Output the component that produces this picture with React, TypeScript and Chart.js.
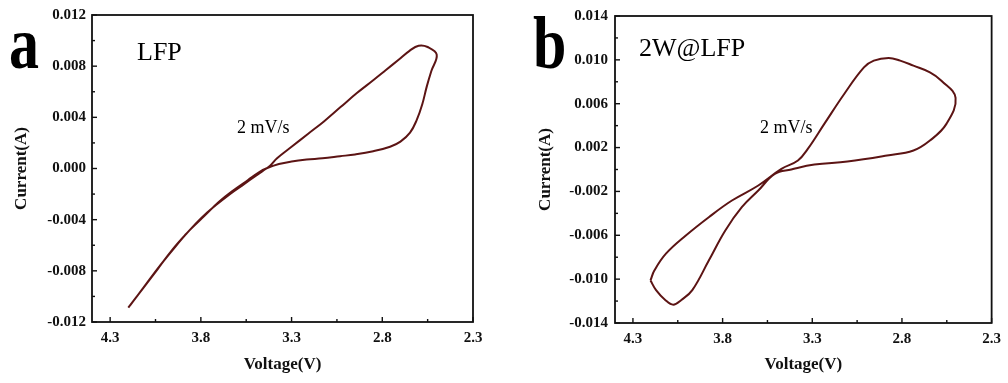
import React, { useEffect, useRef } from "react";
import { Chart, registerables } from "chart.js";

Chart.register(...registerables);

// ---- tick values ----
const xMajorTicks = [4.3, 3.8, 3.3, 2.8, 2.3];
const xMinorTicks = [4.05, 3.55, 3.05, 2.55];
const yMajorTicksA = [-0.012, -0.008, -0.004, 0, 0.004, 0.008, 0.012];
const yMinorTicksA = [-0.01, -0.006, -0.002, 0.002, 0.006, 0.01];
const yMajorTicksB = [-0.014, -0.01, -0.006, -0.002, 0.002, 0.006, 0.01, 0.014];
const yMinorTicksB = [-0.012, -0.008, -0.004, 0, 0.004, 0.008, 0.012];

// ---- panel a: LFP ----
const lfpVoltage = [
  4.2, 4.12, 4.04, 3.96, 3.88, 3.8, 3.72, 3.64, 3.56, 3.5, 3.46, 3.42,
  3.38, 3.3, 3.21, 3.12, 3.03, 2.94, 2.85, 2.78, 2.71, 2.65, 2.6, 2.55, 2.5,
  2.53, 2.555, 2.58, 2.61, 2.647, 2.7, 2.757, 2.85, 2.95, 3.033, 3.13, 3.217, 3.3, 3.37, 3.437,
  3.48, 3.54, 3.62, 3.7, 3.78, 3.86, 3.94, 4.02, 4.1, 4.19,
];
const lfpCurrent = [
  -0.01088, -0.0094, -0.0079, -0.0064, -0.0051, -0.0039, -0.0029, -0.002, -0.0012, -0.0006, -0.0002, 0.0002,
  0.0008, 0.0017, 0.0027, 0.0037, 0.0048, 0.0059, 0.0069, 0.0077, 0.0085, 0.0092, 0.0096, 0.0095, 0.0089,
  0.0076, 0.0064, 0.005, 0.0038, 0.0028, 0.0021, 0.0017, 0.00135, 0.0011, 0.00096, 0.0008, 0.0007, 0.00055, 0.00035, 0.00002,
  -0.0003, -0.0009, -0.0017, -0.0026, -0.0037, -0.0048, -0.0061, -0.0075, -0.009, -0.0107,
];

// ---- panel b: 2W@LFP ----
const w2Voltage = [
  4.202, 4.171, 4.12, 4.075, 4.03, 3.969, 3.877, 3.785, 3.693, 3.601, 3.509, 3.417,
  3.288, 3.104, 2.883, 2.736, 2.644, 2.552, 2.501,
  2.58, 2.644, 2.736, 2.81, 2.874, 2.957, 3.012, 3.122, 3.233, 3.325, 3.38, 3.472,
  3.601, 3.748, 3.877, 4.005, 4.116, 4.18, 4.202,
];
const w2Current = [
  -0.01012, -0.011, -0.0119, -0.01233, -0.0119, -0.011, -0.0083, -0.00556, -0.00344, -0.00192, -0.0004, 0.0,
  0.00045, 0.00072, 0.00127, 0.00173, 0.00264, 0.00416, 0.00653,
  0.0081, 0.00886, 0.00947, 0.00993, 0.01017, 0.00993, 0.00931, 0.00689, 0.00416, 0.00188, 0.00082, 0.00006,
  -0.00146, -0.00283, -0.00435, -0.00602, -0.00768, -0.0092, -0.01012,
];

const CURVE_COLOR = "#5c1414";
const SERIF = '"Liberation Serif", "Times New Roman", serif';

type PanelCfg = {
  width: number;
  chartLeft: number;
  chartRight: number;
  chartTop: number;
  chartBottom: number;
  yMin: number;
  yMax: number;
  yMajor: number[];
  yMinor: number[];
  voltage: number[];
  current: number[];
  letter: string;
  letterPos: [number, number];
  name: string;
  namePos: [number, number];
  ratePos: [number, number];
  yTitleOffset: number;
  yLabelPad: number;
};

const HEIGHT = 383;

function makeChart(canvas: HTMLCanvasElement, p: PanelCfg) {
  const decor = {
    id: "decor",
    afterDraw(chart: any) {
      const { ctx, chartArea: a, scales } = chart;
      const xs = scales.x;
      const ys = scales.y;
      ctx.save();
      ctx.strokeStyle = "#111";
      ctx.lineWidth = 1.4;
      const xt = (vals: number[], len: number) =>
        vals.forEach((v) => {
          const px = xs.getPixelForValue(v);
          ctx.beginPath();
          ctx.moveTo(px, a.bottom);
          ctx.lineTo(px, a.bottom - len);
          ctx.stroke();
        });
      const yt = (vals: number[], len: number) =>
        vals.forEach((v) => {
          const py = ys.getPixelForValue(v);
          ctx.beginPath();
          ctx.moveTo(a.left, py);
          ctx.lineTo(a.left + len, py);
          ctx.stroke();
        });
      xt(xMajorTicks, 5);
      xt(xMinorTicks, 3);
      yt(p.yMajor, 5);
      yt(p.yMinor, 3);
      ctx.lineWidth = 1.8;
      ctx.strokeRect(a.left, a.top, a.right - a.left, a.bottom - a.top);

      ctx.fillStyle = "#000";
      ctx.textAlign = "left";
      ctx.textBaseline = "alphabetic";
      ctx.save();
      ctx.translate(p.letterPos[0], p.letterPos[1]);
      ctx.scale(1, 1.25);
      ctx.font = `bold 60px ${SERIF}`;
      ctx.fillText(p.letter, 0, 0);
      ctx.restore();
      ctx.font = `26px ${SERIF}`;
      ctx.fillText(p.name, p.namePos[0], p.namePos[1]);
      ctx.font = `18px ${SERIF}`;
      ctx.fillText("2 mV/s", p.ratePos[0], p.ratePos[1]);
      ctx.restore();
    },
  };

  const points = p.voltage.map((v, i) => ({ x: v, y: p.current[i] }));

  return new Chart(canvas, {
    type: "scatter",
    data: {
      datasets: [
        {
          data: points,
          showLine: true,
          borderColor: CURVE_COLOR,
          borderWidth: 2,
          pointRadius: 0,
          tension: 0.4,
          fill: false,
        },
      ],
    },
    options: {
      animation: false,
      responsive: false,
      maintainAspectRatio: false,
      layout: {
        padding: { left: 0, top: p.chartTop, right: p.width - p.chartRight, bottom: 0 },
      },
      plugins: { legend: { display: false }, tooltip: { enabled: false } },
      scales: {
        x: {
          type: "linear",
          reverse: true,
          min: 2.3,
          max: 4.4,
          grid: { display: false, drawTicks: false },
          border: { display: false },
          afterBuildTicks: (s: any) => {
            s.ticks = xMajorTicks.map((v) => ({ value: v }));
          },
          afterFit: (s: any) => {
            s.height = HEIGHT - p.chartBottom;
          },
          ticks: {
            autoSkip: false,
            maxRotation: 0,
            padding: 7,
            color: "#111",
            font: { family: SERIF, size: 15, weight: "bold" },
            callback: (v: any) => Number(v).toFixed(1),
          },
          title: {
            display: true,
            text: "Voltage(V)",
            color: "#111",
            font: { family: SERIF, size: 17, weight: "bold" },
            padding: { top: 0, bottom: 8 },
          },
        },
        y: {
          type: "linear",
          min: p.yMin,
          max: p.yMax,
          grid: { display: false, drawTicks: false },
          border: { display: false },
          afterBuildTicks: (s: any) => {
            s.ticks = p.yMajor.map((v) => ({ value: v }));
          },
          afterFit: (s: any) => {
            s.width = p.chartLeft;
          },
          ticks: {
            autoSkip: false,
            padding: p.yLabelPad,
            color: "#111",
            font: { family: SERIF, size: 15, weight: "bold" },
            callback: (v: any) => Number(v).toFixed(3),
          },
          title: {
            display: true,
            text: "Current(A)",
            color: "#111",
            font: { family: SERIF, size: 17, weight: "bold" },
            padding: { top: p.yTitleOffset, bottom: 0 },
          },
        },
      },
    },
    plugins: [decor],
  } as any);
}

const panelA: PanelCfg = {
  width: 500,
  chartLeft: 92,
  chartRight: 473,
  chartTop: 15,
  chartBottom: 322,
  yMin: -0.012,
  yMax: 0.012,
  yMajor: yMajorTicksA,
  yMinor: yMinorTicksA,
  voltage: lfpVoltage,
  current: lfpCurrent,
  letter: "a",
  letterPos: [9, 68],
  name: "LFP",
  namePos: [137, 60],
  ratePos: [237, 133],
  yTitleOffset: 11,
  yLabelPad: 6,
};

const panelB: PanelCfg = {
  width: 508,
  chartLeft: 115,
  chartRight: 496,
  chartTop: 15,
  chartBottom: 323,
  yMin: -0.014,
  yMax: 0.014,
  yMajor: yMajorTicksB,
  yMinor: yMinorTicksB,
  voltage: w2Voltage,
  current: w2Current,
  letter: "b",
  letterPos: [33, 68],
  name: "2W@LFP",
  namePos: [139, 56],
  ratePos: [260, 133],
  yTitleOffset: 35,
  yLabelPad: 7,
};

export default function App() {
  const refA = useRef<HTMLCanvasElement | null>(null);
  const refB = useRef<HTMLCanvasElement | null>(null);

  useEffect(() => {
    const ca = makeChart(refA.current as HTMLCanvasElement, panelA);
    const cb = makeChart(refB.current as HTMLCanvasElement, panelB);
    return () => {
      ca.destroy();
      cb.destroy();
    };
  }, []);

  return (
    <div
      style={{
        position: "absolute",
        left: 0,
        top: 0,
        width: 1008,
        height: HEIGHT,
        background: "#fff",
      }}
    >
      <canvas
        ref={refA}
        width={panelA.width}
        height={HEIGHT}
        style={{ position: "absolute", left: 0, top: 0, width: panelA.width, height: HEIGHT }}
      />
      <canvas
        ref={refB}
        width={panelB.width}
        height={HEIGHT}
        style={{ position: "absolute", left: 500, top: 0, width: panelB.width, height: HEIGHT }}
      />
    </div>
  );
}
